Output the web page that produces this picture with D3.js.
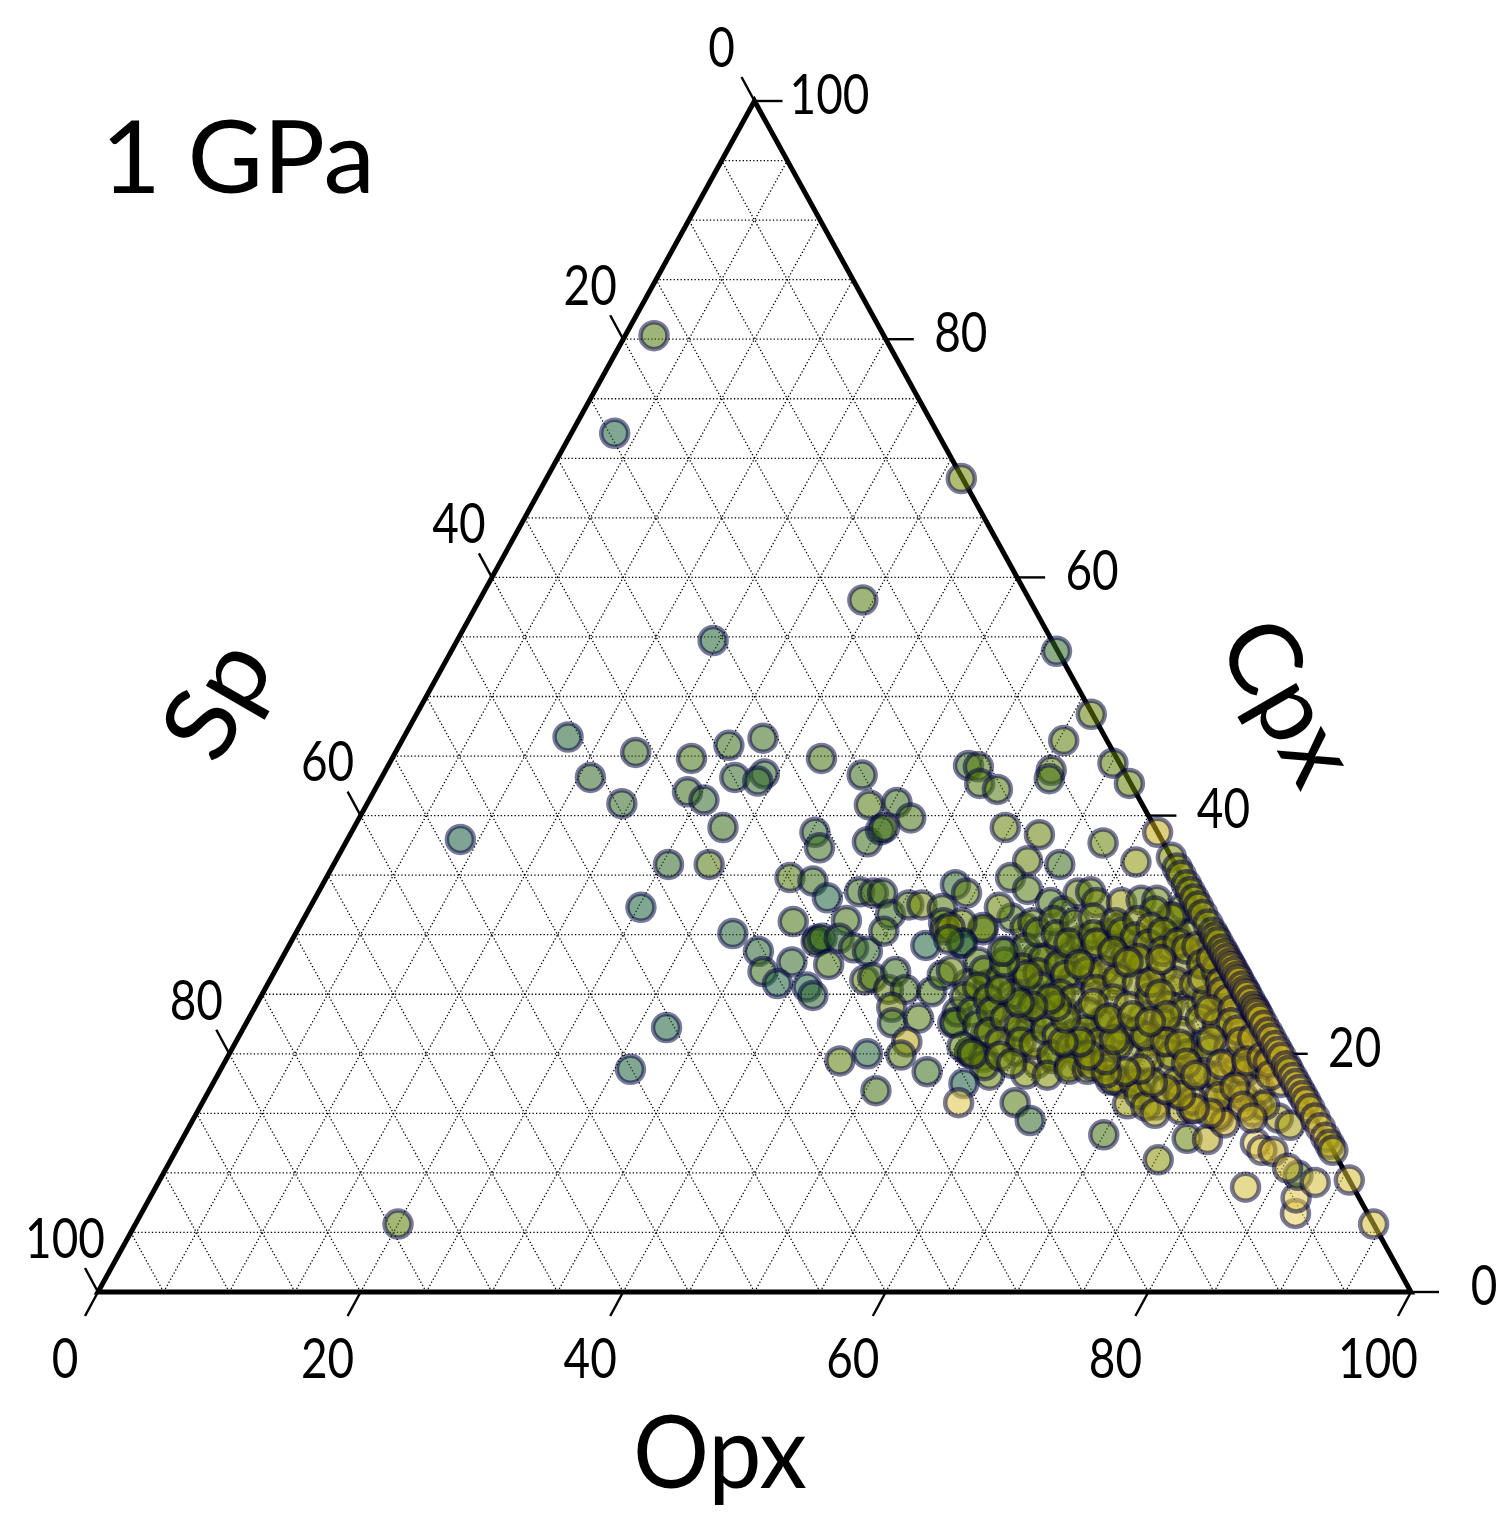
<!DOCTYPE html>
<html>
<head>
<meta charset="utf-8">
<title>1 GPa</title>
<script src="https://d3js.org/d3.v7.min.js"></script>
<style>
  body { margin: 0; background: #fff; }
  text { font-family: Lato, "Noto Sans", sans-serif; fill: #000; }
</style>
</head>
<body>
<div id="chart"></div>
<script>
'use strict';

// Values, in percent. Sp is whatever is left of 100.
var scatterOpx = [
  2.2,3.3,31.6,29.2,19.5,46.1,51.4,50.4,12.5,18.3,
  22.8,25.1,27.4,32.7,15.9,36.5,26.9,29.0,28.8,23.9,
  25.5,19.4,44.2,45.0,45.8,47.4,50.7,50.9,55.1,57.2,
  38.3,40.3,42.0,28.1,8.6,35.3,36.3,39.7,40.2,40.4,
  49.6,52.5,57.7,25.5,28.6,52.7,55.3,61.0,61.4,25.2,
  35.3,37.2,33.3,37.4,39.0,41.4,40.0,40.0,40.3,41.6,
  43.1,44.3,36.0,39.0,41.9,37.2,38.8,41.2,42.0,41.2,
  42.3,43.0,44.5,44.7,45.5,46.5,48.5,48.2,49.4,48.2,
  48.9,49.3,51.1,52.2,45.3,45.8,47.5,47.3,48.8,48.5,
  49.2,51.0,50.9,51.0,53.8,53.7,51.1,51.2,48.6,46.8,
  53.9,50.8,56.3,56.3,56.8,57.6,58.8,57.2,57.6,61.9,
  63.8,70.0,75.2,32.2,31.2,20.0,83.0,87.9,87.3,86.5,
  88.1,81.9,82.7,83.6,80.6,80.4,82.6,83.8,85.4,76.5,
  78.1,78.0,74.8,72.7,77.8,76.7,73.9,70.7,72.0,73.7,
  78.4,76.1,73.2,71.8,67.4,69.3,68.0,69.9,72.6,73.9,
  74.1,52.1,53.9,56.2,57.5,57.9,58.8,59.7,61.6,63.0,
  64.2,66.3,66.5,53.9,55.3,55.7,52.5,52.1,50.3,49.6,
  51.2,54.9,53.2,53.3,54.9,57.4,57.4,59.4,59.9,60.1,
  58.6,61.1,60.3,58.8,58.5,61.9,59.9,59.2,56.5,54.0,
  59.9,61.9,62.9,65.2,63.5,65.0,65.0,67.3,67.1,68.2,
  69.3,77.8,75.6,69.7,70.5,64.2,64.3,62.5,62.5,61.8,
  65.6,67.4,70.3,77.4
];
var scatterCpx = [
  80.3,72.1,68.3,58.1,54.7,53.8,48.5,46.3,46.6,45.3,
  44.8,45.9,46.5,44.8,43.2,43.4,43.2,43.5,42.9,42.0,
  41.3,41.0,44.2,44.1,42.7,42.2,43.8,43.1,44.4,42.7,
  40.9,41.1,39.8,39.0,38.0,38.6,37.3,37.8,38.8,39.0,
  39.0,38.4,37.7,35.9,35.9,36.2,35.9,36.1,38.6,32.3,
  34.8,34.5,30.1,31.1,33.1,31.2,29.6,29.4,29.7,29.7,
  28.9,28.6,28.6,27.7,27.5,26.9,25.9,25.6,24.9,33.6,
  33.5,33.5,31.7,30.3,32.5,32.5,29.1,34.2,33.5,32.2,
  31.0,30.4,29.3,30.4,26.2,26.4,25.4,26.9,25.4,23.9,
  22.6,23.0,25.2,26.6,22.6,23.5,21.0,19.9,20.0,19.4,
  18.5,16.9,20.1,20.2,21.6,19.7,18.2,17.5,15.9,15.9,
  14.4,13.2,11.1,22.2,18.7,5.7,8.8,6.6,7.9,9.8,
  9.2,12.5,11.9,11.8,15.7,15.1,14.6,14.0,10.4,12.9,
  12.8,14.7,15.3,15.7,16.7,16.7,16.7,17.6,18.8,20.9,
  19.2,21.8,24.5,24.3,25.4,25.4,23.1,22.7,20.6,22.7,
  18.5,34.8,33.8,32.7,32.0,33.5,33.6,32.7,32.7,32.9,
  32.9,31.4,32.3,31.4,30.6,31.0,32.3,30.6,31.0,30.6,
  29.3,28.6,27.7,25.9,25.8,26.0,28.1,27.3,28.7,29.6,
  29.3,26.2,24.8,24.8,23.9,23.5,22.4,21.7,23.7,22.6,
  20.2,19.2,19.6,19.5,21.7,20.9,22.6,21.4,18.9,17.8,
  17.5,14.9,15.4,20.9,21.0,27.7,25.8,26.6,30.6,30.1,
  29.7,28.9,27.6,18.8
];
var scatterTone = [
  .3,.05,.45,.3,.08,.15,.4,.35,.08,.2,
  .25,.2,.2,.25,.15,.2,.15,.15,.15,.2,
  .15,.15,.2,.3,.3,.3,.35,.25,.35,.4,
  .3,.2,.25,.2,.03,.15,.2,.2,.15,.25,
  .4,.4,.4,.15,.3,.4,.2,.55,.75,.05,
  .3,.2,.08,.25,.05,.25,.2,.22,.2,.15,
  .25,.15,.1,.15,.25,.2,.05,.05,.12,.2,
  .25,.25,.2,.25,.3,.45,.05,.15,.35,.3,
  .35,.5,.2,.35,.4,.25,.4,.2,.25,.45,
  .2,.3,.25,.25,.35,.25,.7,.35,.08,.35,
  .2,.25,.3,.3,.45,.35,.4,.03,.9,.3,
  .15,.25,.55,.05,.05,.35,.85,.95,.9,.3,
  .85,.95,.9,.75,.45,.7,.65,.65,.8,.4,
  .7,.75,.65,.8,.6,.65,.6,.55,.55,.4,
  .6,.65,.75,.55,.45,.55,.45,.5,.5,.5,
  .6,.3,.3,.25,.3,.4,.35,.45,.6,.35,
  .4,.4,.45,.3,.45,.35,.4,.35,.4,.5,
  .1,.1,.3,.4,.3,.35,.35,.3,.35,.4,
  .4,.25,.3,.35,.3,.4,.35,.35,.3,.3,
  .5,.65,.3,.5,.5,.45,.4,.5,.55,.6,
  .55,.8,.7,.6,.55,.4,.55,.65,.35,.4,
  .12,.6,.55,.65
];

var coreOpx = [
  54.0,55.6,56.2,56.8,57.1,58.0,58.2,59.0,59.5,60.4,
  60.8,61.3,61.9,62.0,62.6,63.1,63.3,63.6,64.1,64.5,
  65.0,65.3,65.9,66.2,66.5,66.9,67.2,67.5,67.8,68.2,
  68.5,68.9,69.0,69.6,70.0,70.3,70.6,71.0,71.5,71.8,
  72.2,72.5,73.0,73.3,74.0,74.5,75.0,75.3,75.9,76.4,
  76.8,77.2,77.5,78.2,79.0,79.3,80.0,81.0,81.3,72.0,
  70.0,68.0,66.0,64.5,50.0,51.5,
  53.6,54.2,54.8,55.5,55.8,56.3,57.0,57.6,58.2,58.0,
  59.0,59.8,60.4,60.9,61.2,61.5,62.3,62.7,63.2,63.8,
  64.2,64.5,64.6,65.8,66.0,66.2,67.3,68.5,69.0,70.5,
  70.2,71.0,72.0,73.0,
  56.5,57.2,58.0,58.9,59.3,60.1,60.8,61.4,62.0,62.9,
  63.6,64.1,64.9,65.4,66.0,66.8,67.6,68.5,69.2,70.3,
  71.0,71.6,70.8,72.5,73.0,73.8,72.8,74.6,75.0,74.2,
  75.8,76.5,77.3,76.0,77.8,78.8,79.5,80.2,78.0,79.4,
  80.6,78.7,77.2,75.8,74.2,72.8,71.5,70.0,69.0,67.6,
  67.0,66.8,65.5,64.3,63.0,62.2,61.0,60.2,59.2,58.0,
  57.5,56.0,55.2,54.6,
  55.5,56.6,58.8,60.0,61.0,63.0,65.2,67.2,
  68.4,69.8,70.8,72.0,73.3,74.5,63.7,65.5,67.2,68.8,
  64.6,67.0
];
var coreCpx = [
  27.0,26.4,28.9,27.2,25.0,28.0,26.8,25.6,27.5,26.6,
  25.0,28.3,26.9,24.6,29.1,27.0,25.4,23.5,28.4,26.3,
  24.6,22.9,27.4,25.9,24.0,22.1,29.9,27.0,24.7,21.8,
  19.9,27.8,26.1,24.0,22.5,19.5,25.8,23.6,21.9,19.9,
  24.5,22.9,20.0,17.6,22.5,20.3,18.4,16.1,20.5,18.0,
  19.3,16.4,20.5,18.5,16.4,18.9,17.0,15.7,17.6,26.5,
  28.5,30.0,31.5,32.0,29.6,27.0,
  24.8,25.6,23.5,24.6,22.4,23.5,21.8,23.0,21.0,19.0,
  22.3,21.0,23.3,20.8,22.0,18.3,21.5,19.9,18.2,20.5,
  22.0,19.0,18.7,21.0,18.7,19.0,20.8,17.8,21.5,15.8,
  17.5,16.6,15.6,15.0,
  30.2,31.2,30.0,31.0,29.3,31.4,30.0,29.3,31.0,30.2,
  31.2,29.8,30.6,29.2,30.2,28.6,29.3,28.8,29.0,27.5,
  26.3,27.1,28.0,26.0,25.2,24.6,23.7,23.7,22.6,21.2,
  22.0,21.0,21.3,19.1,19.4,19.7,19.3,18.2,17.2,15.6,
  14.6,14.2,15.0,15.4,16.5,17.0,17.6,18.7,18.5,18.4,
  19.5,21.2,19.9,21.0,21.0,23.0,24.0,24.6,24.0,24.3,
  26.6,25.4,27.7,28.6,
  20.6,20.0,19.8,19.2,27.5,28.6,28.0,26.0,
  25.0,23.2,21.0,20.8,19.2,18.2,24.2,23.0,23.2,22.7,
  27.7,27.9
];
var coreTone = [
  .35,.4,.35,.45,.4,.4,.45,.4,.45,.5,
  .5,.45,.5,.5,.45,.55,.55,.5,.5,.55,
  .55,.5,.55,.55,.6,.55,.5,.55,.55,.55,
  .55,.55,.6,.6,.55,.6,.6,.55,.6,.6,
  .6,.6,.6,.6,.65,.6,.65,.65,.65,.65,
  .7,.65,.65,.7,.7,.7,.7,.7,.75,.6,
  .55,.5,.5,.45,.3,.4,
  .35,.4,.35,.4,.35,.4,.4,.45,.45,.4,
  .45,.45,.45,.5,.45,.5,.5,.5,.5,.5,
  .5,.55,.5,.55,.55,.55,.55,.6,.55,.6,
  .6,.6,.6,.65,
  .35,.4,.4,.4,.45,.45,.45,.5,.5,.5,
  .5,.5,.55,.55,.5,.55,.55,.6,.6,.6,
  .6,.6,.65,.65,.7,.65,.65,.7,.65,.65,
  .7,.7,.75,.7,.7,.75,.75,.75,.7,.75,
  .8,.75,.7,.7,.65,.65,.6,.6,.6,.55,
  .55,.55,.55,.5,.5,.5,.5,.45,.45,.4,
  .45,.4,.35,.35,
  .35,.4,.45,.45,.5,.5,.55,.6,
  .6,.6,.6,.6,.65,.65,.55,.55,.55,.6,
  .55,.6
];

// these sit right on the Opx-Cpx edge, Sp = 0
var edgeOpx = [
  63.5,64.4,65.0,65.8,66.4,67.0,67.6,68.3,69.1,69.8,
  70.2,70.6,71.2,71.6,72.0,72.4,72.7,73.1,73.5,73.8,
  74.3,74.7,75.0,75.5,76.0,76.3,76.6,77.0,77.6,78.2,
  78.7,79.3,79.8,80.3,81.0,81.4,82.0,82.5,83.0,83.5,
  84.0,84.6,85.4,86.2,87.0,87.6,88.1,90.6,94.3
];
var edgeCpx = [
  36.5,35.6,35.0,34.2,33.6,33.0,32.4,31.7,30.9,30.2,
  29.8,29.4,28.8,28.4,28.0,27.6,27.3,26.9,26.5,26.2,
  25.7,25.3,25.0,24.5,24.0,23.7,23.4,23.0,22.4,21.8,
  21.3,20.7,20.2,19.7,19.0,18.6,18.0,17.5,17.0,16.5,
  16.0,15.4,14.6,13.8,13.0,12.4,11.9,9.4,5.7
];
var edgeTone = [
  .5,.5,.55,.5,.55,.55,.55,.55,.55,.6,
  .6,.6,.65,.7,.7,.7,.7,.75,.7,.7,
  .75,.7,.75,.7,.7,.7,.75,.7,.75,.7,
  .75,.8,.8,.75,.8,.7,.85,.8,.85,.75,
  .8,.7,.75,.8,.8,.7,.65,.85,.85
];

var gridValues = d3.range(5, 100, 5);
var tickValues = [0, 20, 40, 60, 80, 100];
var toneStops = [0, 0.25, 0.5, 0.75, 1];
var toneColors = ['#0f5743', '#43700d', '#7c8c00', '#c2a814', '#f0d868'];

var width = 1499, height = 1514;

var svg = d3.select('#chart').append('svg')
  .attr('width', width)
  .attr('height', height)
  .style('display', 'block');

var xScale = d3.scaleLinear().domain([0, 100]).range([98, 1411]);
var yScale = d3.scaleLinear().domain([0, 100]).range([1292, 101]);
var toneScale = d3.scaleLinear().domain(toneStops).range(toneColors);

// ternary position from Opx and Cpx
function px(opx, cpx) { return xScale(opx + cpx / 2); }
function py(cpx) { return yScale(cpx); }

// Grid, one family of lines per component
var grid = svg.append('g')
  .attr('fill', 'none')
  .attr('stroke', '#000')
  .attr('stroke-width', 1.3)
  .attr('stroke-dasharray', '1.3,2.2');

gridValues.forEach(function(v) {
  var segments = [
    [[0, v], [100 - v, v]],      // constant Cpx
    [[v, 0], [v, 100 - v]],      // constant Opx
    [[100 - v, 0], [0, 100 - v]] // constant Sp
  ];
  segments.forEach(function(s) {
    grid.append('line')
      .attr('x1', px(s[0][0], s[0][1])).attr('y1', py(s[0][1]))
      .attr('x2', px(s[1][0], s[1][1])).attr('y2', py(s[1][1]));
  });
});

// Ticks and labels
function addTick(x, y, dx, dy, lx, ly, value) {
  svg.append('line')
    .attr('x1', x).attr('y1', y)
    .attr('x2', x + dx).attr('y2', y + dy)
    .attr('stroke', '#000')
    .attr('stroke-width', 2.4);
  svg.append('text')
    .attr('transform', 'translate(' + (x + lx) + ',' + (y + ly) + ') scale(0.82,1)')
    .attr('text-anchor', 'middle')
    .attr('dominant-baseline', 'central')
    .attr('font-size', 56)
    .text(value);
}

tickValues.forEach(function(v) {
  addTick(px(v, 0), py(0), -13, 24, -33, 64, v);          // Opx, bottom
  addTick(px(100 - v, v), py(v), 28, 0, v === 0 ? 73 : 75, -9, v); // Cpx, right
  addTick(px(0, 100 - v), py(100 - v), -13, -24, -33, -56, v); // Sp, left
});

// Triangle outline
svg.append('path')
  .attr('d', d3.line()([
    [px(0, 0), py(0)],
    [px(100, 0), py(0)],
    [px(0, 100), py(100)]
  ]) + 'Z')
  .attr('fill', 'none')
  .attr('stroke', '#000')
  .attr('stroke-width', 5)
  .attr('stroke-linejoin', 'miter');

// Points
function addPoints(opx, cpx, tone) {
  svg.append('g').selectAll('circle')
    .data(opx)
    .enter().append('circle')
    .attr('cx', function(d, i) { return px(d, cpx[i]); })
    .attr('cy', function(d, i) { return py(cpx[i]); })
    .attr('r', 13.5)
    .attr('fill', function(d, i) { return toneScale(tone[i]); })
    .attr('fill-opacity', 0.55)
    .attr('stroke', '#000040')
    .attr('stroke-opacity', 0.52)
    .attr('stroke-width', 4.5);
}
addPoints(scatterOpx, scatterCpx, scatterTone);
addPoints(coreOpx, coreCpx, coreTone);
addPoints(edgeOpx, edgeCpx, edgeTone);

// Titles
function addTitle(x, y, rotate, len, label) {
  svg.append('text')
    .attr('transform', 'translate(' + x + ',' + y + ') rotate(' + rotate + ')')
    .attr('text-anchor', 'middle')
    .attr('dominant-baseline', 'central')
    .attr('font-size', 100)
    .attr('textLength', len)
    .attr('lengthAdjust', 'spacingAndGlyphs')
    .text(label);
}
addTitle(238, 154, 0, 274, '1 GPa');
addTitle(720, 1449, 0, 174, 'Opx');
addTitle(213, 697, -60, 118, 'Sp');
addTitle(1292, 699, 60, 172, 'Cpx');
</script>
</body>
</html>
